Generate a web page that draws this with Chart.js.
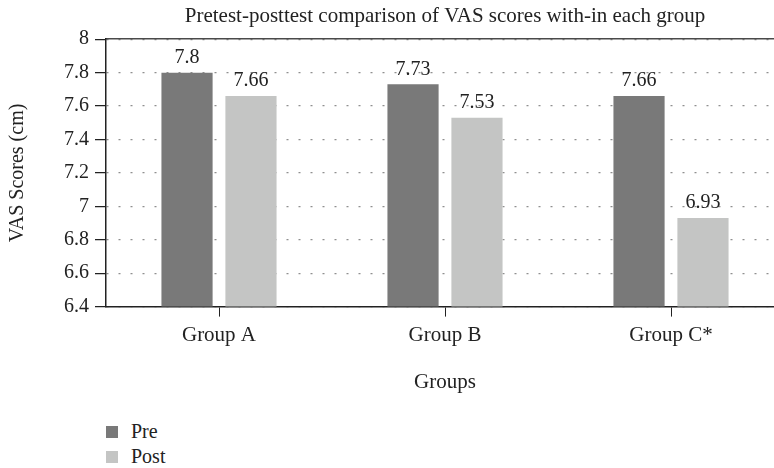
<!DOCTYPE html>
<html>
<head>
<meta charset="utf-8">
<script src="https://cdn.jsdelivr.net/npm/chart.js@4"></script>
<style>
  html, body { margin: 0; padding: 0; background: #fff; overflow: hidden; }
  #wrap { position: relative; width: 790px; height: 400px; }
  #legend { margin: 19px 0 0 106px; font-family: 'Liberation Serif', serif; font-size: 20px; color: #222; }
  #legend div { display: flex; align-items: center; height: 25px; }
  #legend span.box { display: inline-block; width: 12px; height: 12px; margin-right: 13px; }
</style>
</head>
<body>
<div id="wrap"><canvas id="chart"></canvas></div>
<div id="legend"></div>
<script>
const categories = ['Group A', 'Group B', 'Group C*'];
const preScores = [7.8, 7.73, 7.66];
const postScores = [7.66, 7.53, 6.93];
const seriesNames = ['Pre', 'Post'];
const seriesColors = ['#797979', '#c4c5c4'];

const serif = 'Liberation Serif';

// draws the value above each bar
const valueLabels = {
  id: 'valueLabels',
  afterDatasetsDraw(chart) {
    const ctx = chart.ctx;
    ctx.save();
    ctx.font = '20px ' + serif;
    ctx.fillStyle = '#222';
    ctx.textAlign = 'center';
    ctx.textBaseline = 'bottom';
    chart.data.datasets.forEach((ds, i) => {
      chart.getDatasetMeta(i).data.forEach((bar, j) => {
        ctx.fillText(String(ds.data[j]), bar.x, bar.y - 5);
      });
    });
    ctx.restore();
  }
};

const ctx = document.getElementById('chart').getContext('2d');

const chart = new Chart(ctx, {
  type: 'bar',
  data: {
    labels: categories,
    datasets: [
      { label: seriesNames[0], data: preScores, backgroundColor: seriesColors[0] },
      { label: seriesNames[1], data: postScores, backgroundColor: seriesColors[1] }
    ]
  },
  options: {
    responsive: true,
    maintainAspectRatio: false,
    animation: false,
    categoryPercentage: 0.566,
    barPercentage: 0.8,
    layout: { padding: { left: 0, right: 6, top: 0, bottom: 5 } },
    plugins: {
      legend: { display: false },
      tooltip: { enabled: false }
    },
    scales: {
      x: {
        grid: { offset: false, drawOnChartArea: false, tickLength: 10, color: '#222' },
        border: { color: '#222', width: 1.5 },
        ticks: { font: { family: serif, size: 21 }, color: '#222', padding: 6 },
        title: {
          display: true, text: 'Groups', color: '#222',
          font: { family: serif, size: 21 },
          padding: { top: 16, bottom: 0 }
        }
      },
      // top frame line, carries the chart title centred over the plot
      xTop: {
        type: 'category',
        position: 'top',
        grid: { display: false, drawTicks: false },
        ticks: { display: false },
        border: { color: '#4a4a4a', width: 1.5 },
        title: {
          display: true,
          text: 'Pretest-posttest comparison of VAS scores with-in each group',
          color: '#222',
          font: { family: serif, size: 21 },
          padding: { top: 4, bottom: 10 }
        }
      },
      y: {
        min: 6.4,
        max: 8,
        ticks: {
          stepSize: 0.2,
          font: { family: serif, size: 20 },
          color: '#222',
          padding: 6,
          callback: v => String(+v.toFixed(1))
        },
        grid: { color: '#8f8f8f', lineWidth: 1.2, tickColor: '#222', tickLength: 11, tickBorderDash: [1, 0] },
        border: { color: '#222', width: 1.5, dash: [2, 10] },
        title: {
          display: true, text: 'VAS Scores (cm)', color: '#222',
          font: { family: serif, size: 20 },
          padding: { top: 6, bottom: 28 }
        }
      }
    }
  },
  plugins: [valueLabels]
});

// html legend, one row per series
const legend = document.getElementById('legend');
chart.data.datasets.forEach(ds => {
  const row = document.createElement('div');
  const box = document.createElement('span');
  box.className = 'box';
  box.style.background = ds.backgroundColor;
  row.appendChild(box);
  row.appendChild(document.createTextNode(ds.label));
  legend.appendChild(row);
});
</script>
</body>
</html>
